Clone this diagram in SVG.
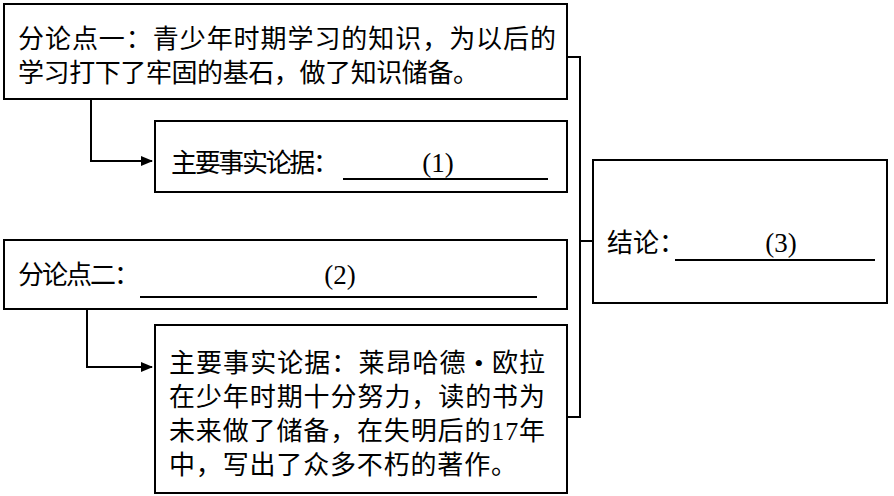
<svg xmlns="http://www.w3.org/2000/svg" width="894" height="496" viewBox="0 0 894 496">
<style>
.box{fill:#fff;stroke:#000;stroke-width:2}
.t{font-family:"Liberation Serif","Noto Sans CJK SC",serif;font-size:26px;fill:#000}
.n{font-family:"Liberation Serif",serif;font-size:27px;fill:#000}
.ul{stroke:#000;stroke-width:2}
.c{fill:none;stroke:#000;stroke-width:2}
</style>
<defs>
<marker id="ah" markerWidth="12" markerHeight="10" refX="11" refY="5" orient="auto" markerUnits="userSpaceOnUse">
<path d="M0,0 L12,5 L0,10 Z" fill="#000"/>
</marker>
</defs>
<rect width="894" height="496" fill="#fff"/>
<g id="connectors">
<polyline class="c" points="567,57 580,57 580,417 567,417"/>
<line class="c" x1="580" y1="241" x2="593" y2="241"/>
<polyline class="c" points="91,99 91,161 152,161" marker-end="url(#ah)"/>
<polyline class="c" points="87,309 87,367 152,367" marker-end="url(#ah)"/>
</g>
<g id="n1">
<rect class="box" x="4" y="4" width="563" height="95"/>
<text class="t" x="18" y="48" textLength="538" lengthAdjust="spacing">分论点一：青少年时期学习的知识，为以后的</text>
<text class="t" x="18" y="82" textLength="461" lengthAdjust="spacing">学习打下了牢固的基石，做了知识储备。</text>
</g>
<g id="n2">
<rect class="box" x="155" y="121" width="412" height="71"/>
<text class="t" x="171" y="172" textLength="168" lengthAdjust="spacing">主要事实论据：</text>
<line class="ul" x1="343" y1="179" x2="548" y2="179"/>
<text class="n" x="438" y="172" text-anchor="middle">(1)</text>
</g>
<g id="n3">
<rect class="box" x="4" y="240" width="563" height="69"/>
<text class="t" x="18" y="284" textLength="122" lengthAdjust="spacing">分论点二：</text>
<line class="ul" x1="140" y1="297" x2="537" y2="297"/>
<text class="n" x="340" y="284" text-anchor="middle">(2)</text>
</g>
<g id="n4">
<rect class="box" x="155" y="325" width="412" height="168"/>
<text class="t" x="169" y="372" textLength="376" lengthAdjust="spacing">主要事实论据：莱昂哈德 • 欧拉</text>
<text class="t" x="169" y="406" textLength="376" lengthAdjust="spacing">在少年时期十分努力，读的书为</text>
<text class="t" x="169" y="440" textLength="376" lengthAdjust="spacing">未来做了储备，在失明后的17年</text>
<text class="t" x="169" y="474" textLength="348" lengthAdjust="spacing">中，写出了众多不朽的著作。</text>
</g>
<g id="n5">
<rect class="box" x="593" y="160" width="294" height="143"/>
<text class="t" x="607" y="252">结论：</text>
<line class="ul" x1="675" y1="260" x2="875" y2="260"/>
<text class="n" x="781" y="252" text-anchor="middle">(3)</text>
</g>
</svg>
